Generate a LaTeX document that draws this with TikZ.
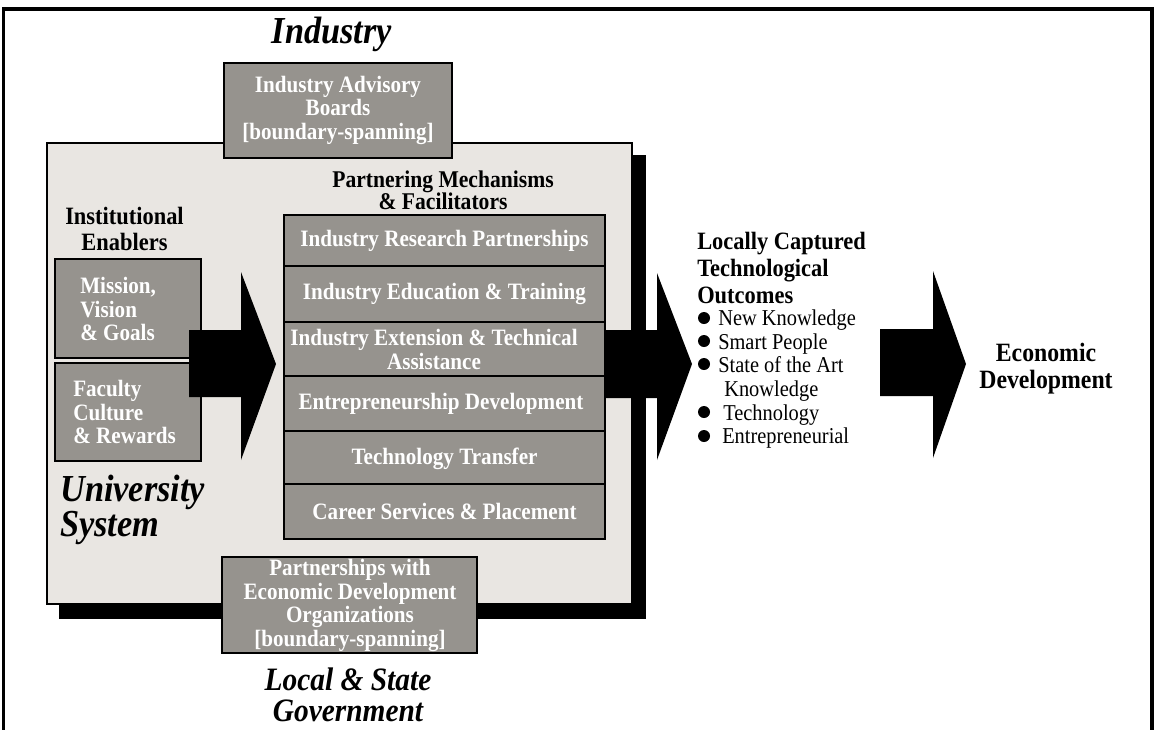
\documentclass[tikz,border=0pt]{standalone}
\usepackage{fontspec}
\setmainfont[FakeStretch=0.9]{Liberation Serif}
\usetikzlibrary{fit}
\definecolor{boxgray}{RGB}{150,147,142}
\definecolor{panel}{RGB}{233,230,226}
\begin{document}
\begin{tikzpicture}[x=0.75pt,y=-0.75pt,
  gbox/.style={draw=black, fill=boxgray, line width=1.1pt, inner sep=0pt, outer sep=0pt},
  gtext/.style={text=white, font=\bfseries\fontsize{17.6}{17.6}\selectfont, align=center, inner sep=0pt},
  ltext/.style={text=white, font=\bfseries\fontsize{17.6}{17.6}\selectfont, align=left, anchor=west, inner sep=0pt},
  head/.style={font=\bfseries\fontsize{18.7}{20}\selectfont, inner sep=0pt},
  big/.style={font=\bfseries\itshape\fontsize{28.6}{30}\selectfont, inner sep=0pt},
  govt/.style={font=\bfseries\itshape\fontsize{24.5}{24}\selectfont, inner sep=0pt, anchor=base},
  item/.style={font=\fontsize{17}{17}\selectfont, anchor=base west, inner sep=0pt},
  dot/.style={circle, fill=black, inner sep=0pt, minimum size=9pt},
  blockarrow/.style={fill=black}]
\useasboundingbox (0,0) rectangle (1154,729);
% outer frame (open at the bottom)
\draw[line width=2.3pt] (3.5,740) -- (3.5,9) -- (1152,9) -- (1152,740);
% university panel with shadow
\fill (59,155) rectangle (646,619);
\node[draw=black, fill=panel, line width=1.4pt, inner sep=0pt, fit={(47,143) (632,604)}] (univ) {};
% arrow behind partnering mechanisms
\fill[blockarrow] (600,330) -- (657,330) -- (657,273) -- (692,364) -- (657,460) -- (657,398) -- (600,398) -- cycle;
% boundary spanning boxes
\node[gbox, fit={(224,63) (452,158)}] (iab) {};
\node[gtext] (iabt) at (338,110) {Industry Advisory\\Boards\\{}[boundary-spanning]};
\node[gbox, fit={(222,557) (477,653)}] (ped) {};
\node[gtext] (pedt) at (350,605.5) {Partnerships with\\Economic Development\\Organizations\\{}[boundary-spanning]};
% institutional enablers
\node[gbox, fit={(55,259) (201,358)}] (mvg) {};
\node[ltext] (mvgt) at (80,309) {Mission,\\Vision\\\& Goals};
\node[gbox, fit={(55,363) (201,461)}] (fcr) {};
\node[ltext] (fcrt) at (73,412) {Faculty\\Culture\\\& Rewards};
\fill[blockarrow] (189,330) -- (241,330) -- (241,272) -- (276,364) -- (241,460) -- (241,397) -- (189,397) -- cycle;
% partnering mechanisms
\node[gbox, fit={(284,215) (605,266)}] (r1) {};
\node[gtext] (r1t) at (444.5,240.5) {Industry Research Partnerships};
\node[gbox, fit={(284,266) (605,322)}] (r2) {};
\node[gtext] (r2t) at (444.5,294) {Industry Education \& Training};
\node[gbox, fit={(284,322) (605,376)}] (r3) {};
\node[gtext, font=\bfseries\fontsize{17.6}{18}\selectfont] (r3t) at (434,349) {Industry Extension \& Technical\\Assistance};
\node[gbox, fit={(284,376) (605,431)}] (r4) {};
\node[gtext] (r4t) at (441,403.5) {Entrepreneurship Development};
\node[gbox, fit={(284,431) (605,484)}] (r5) {};
\node[gtext] (r5t) at (444.5,459) {Technology Transfer};
\node[gbox, fit={(284,484) (605,539)}] (r6) {};
\node[gtext] (r6t) at (444.5,511) {Career Services \& Placement};
% outcome arrow
\fill[blockarrow] (880,329) -- (933,329) -- (933,271) -- (966,364) -- (933,458) -- (933,396) -- (880,396) -- cycle;
% headings
\node[big] (ind) at (332,34) {Industry};
\node[big, anchor=west] (uni1) at (60,492) {University};
\node[big, anchor=west] (uni2) at (60,528) {System};
\node[govt] (gov1) at (348,690) {Local \& State};
\node[govt] (gov2) at (348,721) {Government};
\node[head, align=center] (ie) at (124.5,229) {Institutional\\Enablers};
\node[head, align=center, font=\bfseries\fontsize{18}{16.5}\selectfont] (pm) at (443,190) {Partnering Mechanisms\\\& Facilitators};
\node[head, align=left, anchor=west] (lct) at (697,268) {Locally Captured\\Technological\\Outcomes};
\node[head, align=center, font=\bfseries\fontsize{19.8}{20}\selectfont] (ed) at (1046,368.5) {Economic\\Development};
% outcomes list
\node[item] (o1) at (718,325) {New Knowledge};
\node[item] (o2) at (718,349) {Smart People};
\node[item] (o3) at (718,372) {State of the Art};
\node[item] (o3b) at (724,396) {Knowledge};
\node[item] (o4) at (723,420) {Technology};
\node[item] (o5) at (722,443) {Entrepreneurial};
\node[dot] (d1) at (704,318) {};
\node[dot] (d2) at (704,341) {};
\node[dot] (d3) at (704,364) {};
\node[dot] (d4) at (704,412) {};
\node[dot] (d5) at (704,436) {};
\end{tikzpicture}
\end{document}
